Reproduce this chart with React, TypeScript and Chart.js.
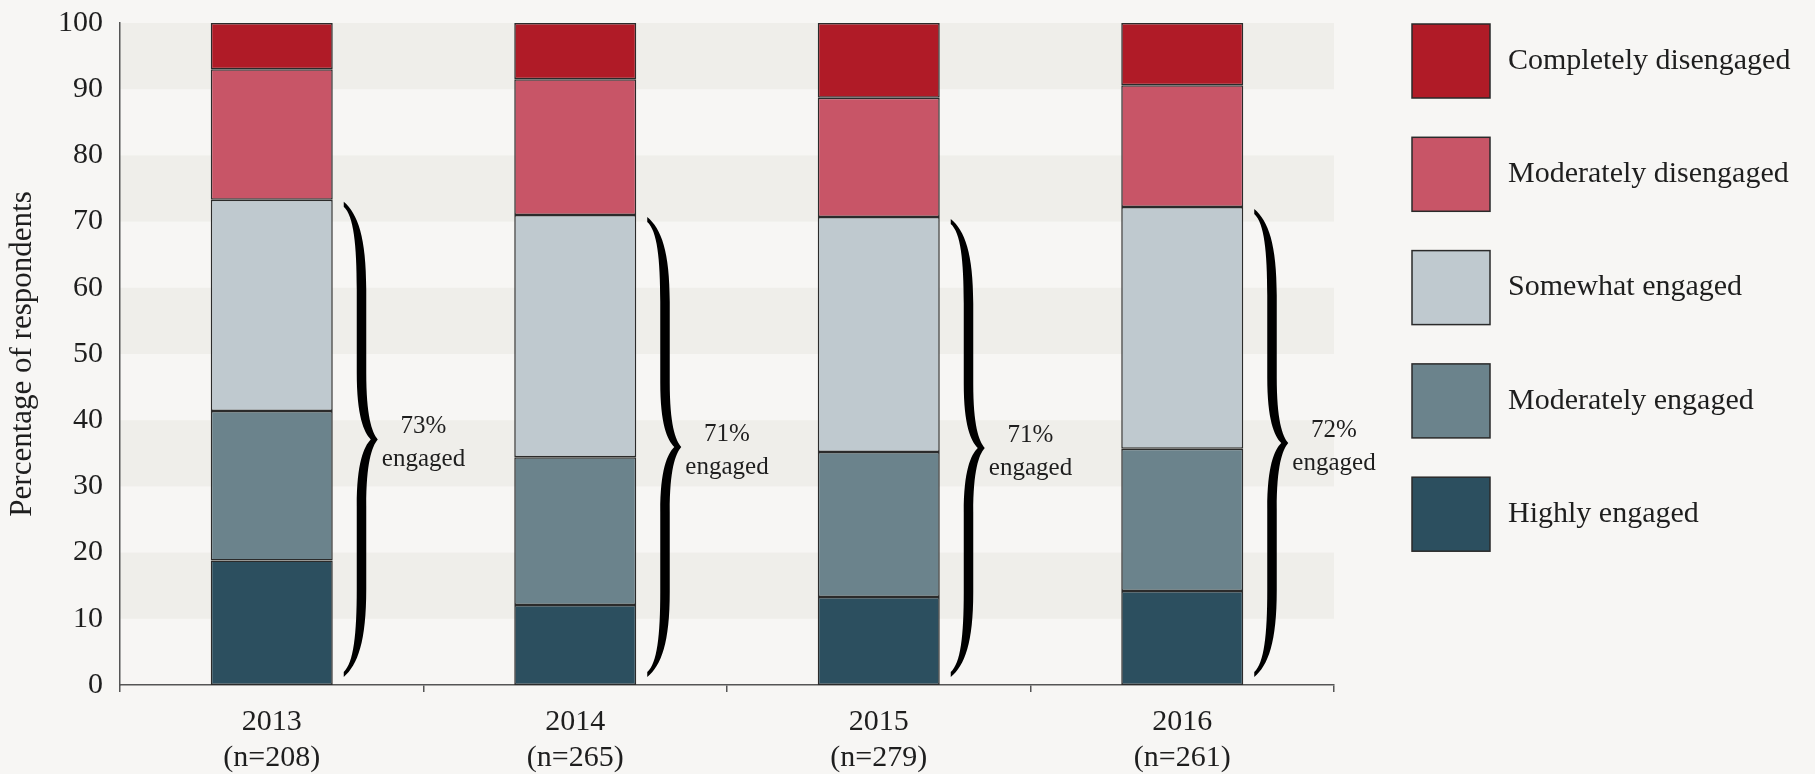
import React, { useEffect, useRef } from "react";
import { Chart, registerables } from "chart.js";

Chart.register(...registerables);

const years = ["2013", "2014", "2015", "2016"];
const sampleSizes = ["(n=208)", "(n=265)", "(n=279)", "(n=261)"];
const highlyEngaged = [18.8, 12.1, 13.3, 14.2];
const moderatelyEngaged = [22.6, 22.3, 21.9, 21.5];
const somewhatEngaged = [31.9, 36.6, 35.5, 36.5];
const moderatelyDisengaged = [19.7, 20.5, 18.0, 18.4];
const completelyDisengaged = [7.0, 8.5, 11.3, 9.4];
const engagedShares = ["73%", "71%", "71%", "72%"];
const seriesNames = [
  "Highly engaged",
  "Moderately engaged",
  "Somewhat engaged",
  "Moderately disengaged",
  "Completely disengaged",
];
const seriesColors = ["#2c4f5f", "#6b838c", "#bfc9cf", "#c85567", "#b01b27"];

const FONT = "'Liberation Serif', 'Times New Roman', serif";
const TEXT = "#1e1e1e";
const BG = "#f7f6f4";
const BAND = "#efeeea";

function drawBrace(ctx: CanvasRenderingContext2D, xTip: number, yT: number, yB: number) {
  const yM = (yT + yB) / 2;
  const h = yM - yT;
  const so = xTip + 22.5; // stem outer
  const si = xTip + 13; // stem inner
  const po = xTip + 34; // point outer
  const pi = xTip + 27; // point inner
  ctx.beginPath();
  ctx.moveTo(xTip, yT);
  ctx.bezierCurveTo(xTip + 14, yT + 0.05 * h, so, yT + 0.15 * h, so, yT + 0.37 * h);
  ctx.lineTo(so, yT + 0.72 * h);
  ctx.bezierCurveTo(so, yT + 0.9 * h, po - 6, yT + 0.97 * h, po, yM);
  ctx.bezierCurveTo(po - 6, yM + 0.03 * h, so, yM + 0.1 * h, so, yM + 0.28 * h);
  ctx.lineTo(so, yB - 0.37 * h);
  ctx.bezierCurveTo(so, yB - 0.15 * h, xTip + 14, yB - 0.05 * h, xTip, yB);
  ctx.lineTo(xTip, yB - 5);
  ctx.bezierCurveTo(xTip + 10, yB - 0.06 * h, si, yB - 0.18 * h, si, yB - 0.37 * h);
  ctx.lineTo(si, yM + 0.28 * h);
  ctx.bezierCurveTo(si, yM + 0.1 * h, pi - 7, yM + 0.03 * h, pi, yM);
  ctx.bezierCurveTo(pi - 7, yM - 0.03 * h, si, yM - 0.1 * h, si, yM - 0.28 * h);
  ctx.lineTo(si, yT + 0.37 * h);
  ctx.bezierCurveTo(si, yT + 0.18 * h, xTip + 10, yT + 0.06 * h, xTip, yT + 5);
  ctx.closePath();
  ctx.fillStyle = "#000";
  ctx.fill();
}

const backgroundPlugin = {
  id: "bgBands",
  beforeDraw(chart: any) {
    const { ctx, chartArea, scales } = chart;
    ctx.save();
    ctx.fillStyle = BG;
    ctx.fillRect(0, 0, chart.width, chart.height);
    ctx.fillStyle = BAND;
    const y = scales.y;
    for (let v = 10; v < 100; v += 20) {
      const top = y.getPixelForValue(v + 10);
      const bot = y.getPixelForValue(v);
      ctx.fillRect(chartArea.left, top, chartArea.right - chartArea.left, bot - top);
    }
    ctx.restore();
  },
};

const bracePlugin = {
  id: "braces",
  afterDatasetsDraw(chart: any) {
    const { ctx, scales } = chart;
    const meta = chart.getDatasetMeta(2);
    const zero = scales.y.getPixelForValue(0);
    const step = scales.x.getPixelForValue(1) - scales.x.getPixelForValue(0);
    ctx.save();
    meta.data.forEach((el: any, i: number) => {
      const right = el.x + el.width / 2;
      const yT = el.y + 2;
      const yB = zero - 8;
      drawBrace(ctx, right + 11, yT, yB);
      const yM = (yT + yB) / 2;
      const tx = scales.x.getPixelForValue(i) + step / 2;
      ctx.fillStyle = TEXT;
      ctx.font = `25px ${FONT}`;
      ctx.textAlign = "center";
      ctx.textBaseline = "middle";
      ctx.fillText(engagedShares[i], tx, yM - 13);
      ctx.fillText("engaged", tx, yM + 20);
    });
    ctx.restore();
  },
};

const legendPlugin = {
  id: "sideLegend",
  afterDraw(chart: any) {
    const { ctx, chartArea } = chart;
    const x0 = chartArea.right + 78;
    const boxW = 78;
    const boxH = 74;
    const gap = 113.3;
    ctx.save();
    ctx.font = `30px ${FONT}`;
    ctx.textAlign = "left";
    ctx.textBaseline = "middle";
    const order = [4, 3, 2, 1, 0];
    order.forEach((di, k) => {
      const top = 24 + k * gap;
      ctx.fillStyle = seriesColors[di];
      ctx.fillRect(x0, top, boxW, boxH);
      ctx.strokeStyle = "#2a2a2a";
      ctx.lineWidth = 1.5;
      ctx.strokeRect(x0, top, boxW, boxH);
      ctx.fillStyle = TEXT;
      ctx.fillText(seriesNames[di], x0 + boxW + 18, top + boxH / 2);
    });
    ctx.restore();
  },
};

export default function App() {
  const ref = useRef<HTMLCanvasElement | null>(null);
  useEffect(() => {
    document.body.style.margin = "0";
    document.body.style.background = BG;
    const canvas = ref.current;
    if (!canvas) return;
    const values = [highlyEngaged, moderatelyEngaged, somewhatEngaged, moderatelyDisengaged, completelyDisengaged];
    const chart = new Chart(canvas, {
      type: "bar",
      data: {
        labels: years,
        datasets: values.map((d, i) => ({
          label: seriesNames[i],
          data: d,
          backgroundColor: seriesColors[i],
          borderColor: "#2b2b2b",
          borderWidth: 1.5,
          borderSkipped: false,
          barPercentage: 0.402,
          categoryPercentage: 1,
        })),
      },
      options: {
        responsive: false,
        animation: false,
        events: [],
        layout: { padding: { top: 23, right: 481, bottom: 0, left: 0 } },
        plugins: {
          legend: { display: false },
          tooltip: { enabled: false },
        },
        scales: {
          x: {
            stacked: true,
            afterFit(scale: any) {
              scale.height = 89;
              scale.paddingLeft = 0;
              scale.paddingRight = 0;
            },
            grid: {
              display: true,
              drawOnChartArea: false,
              drawTicks: true,
              tickLength: 7,
              offset: true,
              color: "#555",
              lineWidth: 1.5,
            },
            border: { display: true, color: "#555", width: 1.5 },
            ticks: {
              color: TEXT,
              font: { family: FONT, size: 30, lineHeight: 1.2 },
              padding: 12,
              maxRotation: 0,
              autoSkip: false,
              callback: (_v: any, i: number) => [years[i], sampleSizes[i]],
            },
          },
          y: {
            stacked: true,
            min: 0,
            max: 100,
            afterFit(scale: any) {
              scale.width = 120;
              scale.paddingTop = 0;
              scale.paddingBottom = 0;
            },
            grid: { display: false, drawTicks: false },
            border: { display: true, color: "#555", width: 1.5 },
            ticks: {
              stepSize: 10,
              color: TEXT,
              font: { family: FONT, size: 30 },
              padding: 17,
            },
            title: {
              display: true,
              text: "Percentage of respondents",
              color: TEXT,
              font: { family: FONT, size: 31, lineHeight: 1.2 },
              padding: { top: 4, bottom: 0 },
            },
          },
        },
      },
      plugins: [backgroundPlugin, bracePlugin, legendPlugin],
    });
    return () => chart.destroy();
  }, []);
  return (
    <div style={{ width: 1815, height: 774 }}>
      <canvas ref={ref} width={1815} height={774} style={{ display: "block" }} />
    </div>
  );
}
